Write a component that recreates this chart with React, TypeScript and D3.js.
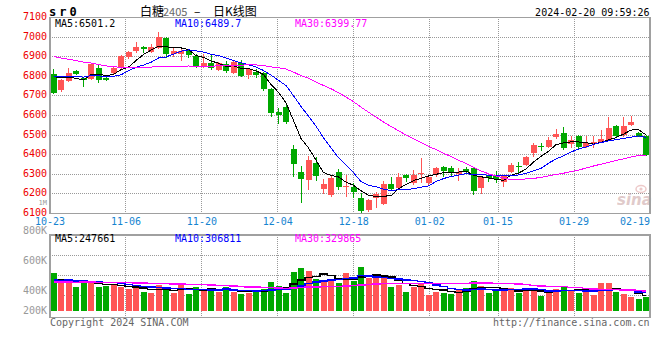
import React from "react";
import * as d3 from "d3";

// ---------- data ----------
const dates = [
  "10-23","10-24","10-25","10-26","10-27","10-30","10-31","11-01","11-02","11-03",
  "11-06","11-07","11-08","11-09","11-10","11-13","11-14","11-15","11-16","11-17",
  "11-20","11-21","11-22","11-23","11-24","11-27","11-28","11-29","11-30","12-01",
  "12-04","12-05","12-06","12-07","12-08","12-11","12-12","12-13","12-14","12-15",
  "12-18","12-19","12-20","12-21","12-22","12-25","12-26","12-27","12-28","12-29",
  "01-02","01-03","01-04","01-05","01-08","01-09","01-10","01-11","01-12","01-15",
  "01-16","01-17","01-18","01-19","01-22","01-23","01-24","01-25","01-26","01-29",
  "01-30","01-31","02-01","02-02","02-05","02-06","02-07","02-08","02-19","02-20",
];
const opens = [
  6811,6730,6777,6827,6792,6786,6840,6792,6815,6840,
  6897,6930,6950,6925,6945,6997,6912,6915,6933,6903,
  6849,6866,6832,6860,6818,6866,6806,6823,6815,6733,
  6619,6644,6427,6313,6271,6359,6225,6194,6313,6238,
  6233,6180,6118,6177,6148,6250,6228,6296,6254,6301,
  6257,6296,6338,6330,6301,6325,6330,6228,6291,6291,
  6262,6313,6342,6347,6406,6444,6437,6488,6512,6454,
  6497,6440,6454,6466,6474,6548,6500,6551,6508,6495,
];
const highs = [
  6837,6785,6840,6832,6797,6866,6857,6797,6845,6906,
  6930,6975,6952,6963,7027,7002,6950,6940,6940,6915,
  6915,6915,6870,6878,6880,6883,6840,6835,6823,6738,
  6636,6653,6449,6341,6393,6390,6274,6291,6325,6296,
  6254,6203,6172,6211,6267,6284,6308,6299,6321,6381,
  6291,6338,6342,6342,6330,6338,6338,6291,6296,6318,
  6296,6359,6364,6393,6457,6457,6488,6529,6539,6495,
  6500,6495,6495,6525,6593,6551,6590,6597,6517,6500,
];
const lows = [
  6710,6720,6770,6805,6746,6780,6765,6776,6810,6835,
  6890,6916,6916,6918,6940,6895,6900,6880,6895,6840,
  6840,6832,6825,6815,6810,6798,6784,6789,6725,6590,
  6556,6556,6284,6155,6220,6267,6199,6182,6220,6182,
  6177,6100,6109,6126,6143,6216,6220,6262,6245,6254,
  6245,6287,6284,6284,6267,6308,6194,6199,6262,6254,
  6236,6308,6308,6342,6389,6418,6432,6478,6423,6432,
  6425,6432,6432,6461,6471,6488,6490,6546,6492,6393,
];
const closes = [
  6716,6780,6818,6810,6780,6862,6781,6781,6840,6903,
  6925,6950,6937,6950,7002,6912,6930,6928,6908,6849,
  6866,6840,6866,6825,6870,6801,6835,6806,6733,6614,
  6602,6568,6352,6276,6373,6291,6250,6279,6237,6240,
  6211,6110,6168,6199,6250,6225,6287,6279,6296,6308,
  6284,6330,6318,6308,6313,6313,6216,6284,6279,6274,
  6291,6347,6335,6386,6449,6440,6474,6505,6432,6474,
  6437,6457,6466,6480,6536,6495,6546,6568,6495,6398,
];
const volumes = [
  616000,482000,482000,391000,482000,445000,391000,402000,429000,391000,
  349000,365000,310000,294000,418000,349000,294000,418000,278000,391000,
  326000,338000,310000,381000,310000,278000,294000,326000,349000,471000,
  407000,294000,632000,696000,648000,515000,482000,498000,445000,606000,
  487000,712000,535000,563000,526000,391000,418000,310000,391000,445000,
  257000,310000,294000,273000,338000,375000,482000,402000,294000,322000,
  326000,375000,294000,354000,326000,246000,301000,354000,407000,338000,
  285000,310000,257000,445000,445000,310000,273000,230000,193000,230000,
];
// closes / volumes of the 29 sessions before the window (estimated from the MA lines)
const priorCloses = [
  6985,7010,7030,7005,6990,7020,6995,6980,6960,6940,
  6925,6950,6930,6905,6920,6895,6910,6880,6890,6860,
  6835,6820,6790,6805,6780,6800,6815,6830,6825,
];
const priorVolumes = [
  420000,465000,510000,400000,455000,430000,480000,390000,445000,470000,
  415000,460000,500000,425000,440000,405000,475000,450000,430000,425000,
  520000,480000,510000,470000,513000,455000,490000,460000,467000,
];
const priceTicks = [7100,7000,6900,6800,6700,6600,6500,6400,6300,6200,6100];
const dateTicks = ["10-23","11-06","11-20","12-04","12-18","01-02","01-15","01-29","02-19"];
const volTickLabels = ["800K","600K","400K","200K"];
const priceLegend = ["MA5:6501.2","MA10:6489.7","MA30:6399.77"];
const volLegend = ["MA5:247661","MA10:306811","MA30:329865"];
const maPeriods = [5,10,30];

// ---------- layout / style ----------
const W = 660, H = 360;
const L = 50, R = 650;
const MAIN_TOP = 17.4, MAIN_BOT = 213.4;
const VOL_TOP = 235, VOL_BOT = 317.7, VOL_BASE = 311;
const VOL_LABEL_Y = [234, 264.3, 294.3, 314.3];
const LEGEND_X = [55, 175, 295];
const MA_COLORS = ["#000000", "#0000ff", "#ff00ff"];
const UP = "#ff5555", DOWN = "#00a800";
const GRID = "#999999", FRAME = "#a0a0a0";
const MONO = "'DejaVu Sans Mono', monospace";
const CJK = "'Noto Sans CJK SC', sans-serif";

function movingAvg(prior: number[], vals: number[], n: number) {
  const all = prior.concat(vals);
  return vals.map((_, i) => {
    const end = prior.length + i;
    let s = 0;
    for (let k = end - n + 1; k <= end; k++) s += all[k];
    return s / n;
  });
}

export default function App() {
  const n = dates.length;
  const xb = d3.scaleBand<number>().domain(d3.range(n)).range([L, R]).paddingInner(0);
  const bw = 6;
  const xc = (i: number) => (xb(i) as number) + 3.5;
  const xl = d3.scaleLinear().domain([0, n - 1]).range([L, R]);
  const yP = d3.scaleLinear().domain([6100, 7100]).range([MAIN_BOT, MAIN_TOP]);
  const yV = d3.scaleLinear().domain([0, 1286400]).range([VOL_BASE, VOL_BASE - 80]);

  const priceMA = maPeriods.map((p) => movingAvg(priorCloses, closes, p));
  const volMA = maPeriods.map((p) => movingAvg(priorVolumes, volumes, p));

  const lineP = d3.line<number>().x((_, i) => xc(i)).y((d) => yP(d));
  const lineV = d3.line<number>().x((_, i) => xc(i)).y((d) => yV(d)).curve(d3.curveStep);

  const gridPrices = priceTicks.filter((p) => p > 6100 && p < 7100);
  const gridDates = dateTicks.slice(1, -1);

  return (
    <svg width={W} height={H} style={{ position: "absolute", left: 0, top: 0, background: "#fff" }}>
      <rect x={0} y={0} width={W} height={H} fill="#fff" />
      {/* titles */}
      <text x={49} y={16} fontFamily={MONO} fontWeight="bold" fontSize={12} letterSpacing={3} fill="#000">sr0</text>
      <text x={140} y={15.5} fontFamily={CJK} fontSize={12} fill="#000">白糖</text>
      <text x={163} y={15.5} fontFamily={CJK} fontSize={11} fill="#666">2405</text>
      <text x={194} y={15.5} fontFamily={CJK} fontSize={12} fill="#000">–</text>
      <text x={213} y={15.5} fontFamily={CJK} fontSize={12} fill="#000">日K线图</text>
      <text x={649.5} y={16} textAnchor="end" fontFamily={MONO} fontSize={10} fill="#000">2024-02-20 09:59:26</text>

      {/* main grid */}
      <g shapeRendering="crispEdges">
        {gridPrices.map((p) => (
          <line key={"hp" + p} x1={L} x2={R} y1={yP(p)} y2={yP(p)} stroke={GRID} strokeDasharray="1,1" />
        ))}
        {gridDates.map((d) => {
          const x = xl(dates.indexOf(d));
          return (
            <g key={"vg" + d}>
              <line x1={x} x2={x} y1={MAIN_TOP} y2={MAIN_BOT} stroke={GRID} strokeDasharray="1,1" />
              <line x1={x} x2={x} y1={VOL_TOP} y2={VOL_BOT} stroke={GRID} strokeDasharray="1,1" />
            </g>
          );
        })}
        {[1, 2, 3].map((k) => (
          <line key={"vh" + k} x1={L} x2={R} y1={VOL_TOP + 20 * k + 0.5} y2={VOL_TOP + 20 * k + 0.5} stroke={GRID} strokeDasharray="1,1" />
        ))}
      </g>

      {/* sina watermark */}
      <g opacity={0.55}>
        <ellipse cx={641} cy={189} rx={5} ry={3.5} fill="none" stroke="#e0a0a0" strokeWidth={1.5} />
        <circle cx={641} cy={189} r={1.6} fill="#e0a0a0" />
        <text x={617} y={205} fontFamily="'DejaVu Sans', sans-serif" fontStyle="italic" fontWeight="bold" fontSize={15} fill="#c8a0a0">sina</text>
      </g>

      {/* candles */}
      <g shapeRendering="crispEdges">
        {closes.map((c, i) => {
          const o = opens[i];
          const col = c >= o ? UP : DOWN;
          const x0 = (xb(i) as number) + 0.5;
          const top = yP(Math.max(o, c));
          const h = Math.max(1, yP(Math.min(o, c)) - top);
          return (
            <g key={"c" + i}>
              <line x1={xc(i)} x2={xc(i)} y1={yP(highs[i])} y2={yP(lows[i])} stroke={col} />
              <rect x={x0} y={top} width={bw} height={h} fill={col} />
            </g>
          );
        })}
      </g>

      {/* price MAs */}
      <g fill="none" strokeWidth={1} shapeRendering="crispEdges">
        {priceMA.map((m, k) => (
          <path key={"pm" + k} d={lineP(m) as string} stroke={MA_COLORS[k]} />
        ))}
      </g>

      {/* volume bars */}
      <g shapeRendering="crispEdges">
        {volumes.map((v, i) => (
          <rect key={"v" + i} x={(xb(i) as number) + 0.5} y={yV(v)} width={bw} height={VOL_BASE - yV(v)}
            fill={closes[i] >= opens[i] ? UP : DOWN} />
        ))}
      </g>
      <g fill="none" strokeWidth={1.5} shapeRendering="crispEdges">
        {volMA.map((m, k) => (
          <path key={"vm" + k} d={lineV(m) as string} stroke={MA_COLORS[k]} />
        ))}
      </g>

      {/* frames */}
      <g fill="none" stroke={FRAME} strokeWidth={1.5} shapeRendering="crispEdges">
        <rect x={L} y={MAIN_TOP} width={R - L} height={MAIN_BOT - MAIN_TOP} />
        <rect x={L} y={VOL_TOP} width={R - L} height={VOL_BOT - VOL_TOP} />
      </g>

      {/* price axis labels */}
      {priceTicks.map((p) => (
        <text key={"pl" + p} x={47} y={yP(p) + 2.5} textAnchor="end" fontFamily={MONO} fontSize={10} fill="#ee0000">{p}</text>
      ))}
      <text x={47} y={205.3} textAnchor="end" fontFamily={MONO} fontSize={7} fill="#999">1M</text>

      {/* date labels */}
      {dateTicks.map((d) => {
        const x = xl(dates.indexOf(d));
        const half = 15;
        const clamped = x + half > R;
        return (
          <text key={"dl" + d} x={clamped ? R : x} y={225} textAnchor={clamped ? "end" : "middle"}
            fontFamily={MONO} fontSize={10} fill="#1684d0">{d}</text>
        );
      })}

      {/* volume labels */}
      {volTickLabels.map((t, k) => (
        <text key={"vl" + t} x={47} y={VOL_LABEL_Y[k]} textAnchor="end" fontFamily={MONO} fontSize={10} fill="#999">{t}</text>
      ))}

      {/* legends */}
      {priceLegend.map((t, k) => (
        <text key={"lg" + k} x={LEGEND_X[k]} y={27.3} fontFamily={MONO} fontSize={10} fill={MA_COLORS[k]}>{t}</text>
      ))}
      {volLegend.map((t, k) => (
        <text key={"vlg" + k} x={LEGEND_X[k]} y={242.3} fontFamily={MONO} fontSize={10} fill={MA_COLORS[k]}>{t}</text>
      ))}

      {/* footer */}
      <text x={50} y={326} fontFamily={MONO} fontSize={10} fill="#666">Copyright 2024 SINA.COM</text>
      <text x={649.5} y={326} textAnchor="end" fontFamily={MONO} fontSize={10} fill="#666">http://finance.sina.com.cn</text>
    </svg>
  );
}
